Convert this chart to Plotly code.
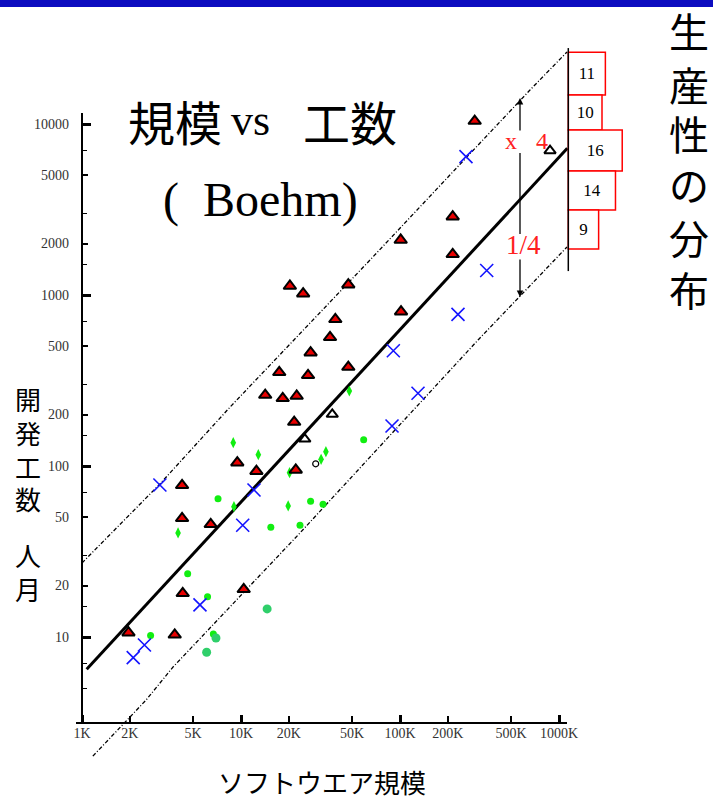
import math
import plotly.graph_objects as go

W, H = 713, 799

# ---------------- data ----------------
size_tick_vals = [1, 2, 5, 10, 20, 50, 100, 200, 500, 1000]
size_tick_text = ["1K", "2K", "5K", "10K", "20K", "50K", "100K", "200K", "500K", "1000K"]
size_decades = [1, 10, 100, 1000]

effort_tick_vals = [10, 20, 50, 100, 200, 500, 1000, 2000, 5000, 10000]
effort_minor_vals = [5, 7, 15, 30, 70, 150, 300, 700, 1500, 3000, 7000]
effort_decades = [10, 100, 1000, 10000]

# project size (K lines) / effort (person-months)
red_x = [1.96, 3.83, 4.30, 10.4, 4.26, 4.26, 6.45, 9.48, 12.5, 22.1, 21.6, 14.2, 18.3, 22.4,
         17.4, 26.4, 27.4, 36.3, 39.2, 47.3, 47.3, 20.3, 24.6, 101.5, 101, 214.5, 214.5, 295]
red_y = [10.6, 10.3, 18.0, 19.0, 77.1, 49.4, 45.6, 104.5, 93.2, 94.8, 180.8, 260, 248.8, 256.7,
         353, 339, 460, 566, 721, 379, 1149, 1129, 1018, 799, 2097, 2870, 1730, 10410]

open_x = [25.2, 37.5, 878]
open_y = [143.8, 200.6, 6982]

blue_x = [3.09, 2.10, 2.47, 5.52, 10.25, 12.07, 89.1, 129.8, 90.8, 231.6, 351, 260]
blue_y = [77.4, 7.57, 8.98, 15.4, 45.0, 72.4, 171.4, 266.2, 472, 771, 1391, 6439]

green_narrow_x = [8.94, 12.85, 20.2, 9.03, 19.8, 4.02, 48.0, 34.2, 31.9]
green_narrow_y = [136.9, 116.4, 91.4, 57.8, 58.4, 40.6, 274.6, 121.2, 109.4]
green_small_x = [7.17, 15.4, 23.5, 4.62, 6.16, 2.70, 6.70, 59.1, 27.4, 32.8]
green_small_y = [64.4, 43.8, 45.0, 23.4, 17.2, 10.2, 10.4, 142.5, 62.2, 59.7]
green_large_x = [6.96, 6.08, 14.6]
green_large_y = [9.87, 8.14, 14.6]

ring_x = [29.5]
ring_y = [103]

fit_x = [1.07, 1128]
fit_y = [6.47, 7210]
upper_x = [1.00, 3.09, 8.53, 64.8, 318.6, 657, 1123]
upper_y = [27.1, 78.5, 221, 1602, 7743, 15800, 26370]
lower_x = [1.17, 2.53, 3.74, 10.3, 23.5, 309.6, 1123]
lower_y = [2.01, 4.28, 6.68, 18.1, 40.6, 545.6, 1909]

hist_counts = [11, 10, 16, 14, 9]
hist_edges = [26300, 14800, 9220, 5310, 3140, 1860]   # effort at 1000K, bin bounds
hist_span = [27800, 1380]

# ---------------- layout geometry ----------------
X_ORIGIN = 82      # pixel column of 1K
X_DECADE = 159     # pixels per decade on the size axis
Y_TEN = 637        # pixel row of 10 person-months
Y_DECADE = 171     # pixels per decade on the effort axis
X_AXIS_ROW = 723
Y_AXIS_TOP = 113
X_AXIS_LEFT = 76
X_AXIS_RIGHT = 567
HIST_BASE = 568.3
HIST_UNIT = 3.37   # pixels per project in the histogram

x_range = [-X_ORIGIN / X_DECADE, (W - X_ORIGIN) / X_DECADE]
y_range = [1 - (H - Y_TEN) / Y_DECADE, 1 + Y_TEN / Y_DECADE]
x2_range = [-HIST_BASE / HIST_UNIT, (W - HIST_BASE) / HIST_UNIT]


def px(p):
    return p / W


def py(p):
    return 1 - p / H


SERIF = "Liberation Serif"
JP = "Noto Sans CJK JP"

fig = go.Figure()

# +/- factor-of-4 band and the fitted trend
for bx, by in ((upper_x, upper_y), (lower_x, lower_y)):
    fig.add_trace(go.Scatter(x=bx, y=by, mode="lines",
                             line=dict(color="black", width=1.3, dash="4px,2px,1px,2px"),
                             hoverinfo="skip", showlegend=False))
fig.add_trace(go.Scatter(x=fit_x, y=fit_y, mode="lines",
                         line=dict(color="black", width=3),
                         hoverinfo="skip", showlegend=False))

# green projects: narrow, small and large blobs
for gx, gy, sym, sz, col in ((green_narrow_x, green_narrow_y, "diamond-tall", 8, "#11ee11"),
                             (green_small_x, green_small_y, "circle", 7, "#11ee11"),
                             (green_large_x, green_large_y, "circle", 9, "#2fcf6a")):
    fig.add_trace(go.Scatter(x=gx, y=gy, mode="markers",
                             marker=dict(symbol=sym, size=sz, color=col, line=dict(width=0)),
                             showlegend=False))
fig.add_trace(go.Scatter(x=ring_x, y=ring_y, mode="markers",
                         marker=dict(symbol="circle-open", size=6, color="black",
                                     line=dict(width=1.2)),
                         showlegend=False))

fig.add_trace(go.Scatter(x=red_x, y=red_y, mode="markers",
                         marker=dict(symbol="triangle-up", size=11, color="#e80000",
                                     line=dict(color="black", width=2)),
                         showlegend=False))
fig.add_trace(go.Scatter(x=open_x, y=open_y, mode="markers",
                         marker=dict(symbol="triangle-up", size=10, color="white",
                                     line=dict(color="black", width=2)),
                         showlegend=False))
fig.add_trace(go.Scatter(x=blue_x, y=blue_y, mode="markers",
                         marker=dict(symbol="x-thin", size=13, color="#1414ff",
                                     line=dict(color="#1414ff", width=1.6)),
                         showlegend=False))

# productivity histogram (log-effort bins at the right edge)
log_edges = [math.log10(v) for v in hist_edges]
hist_centers = [(a + b) / 2 for a, b in zip(log_edges[:-1], log_edges[1:])]
hist_widths = [a - b for a, b in zip(log_edges[:-1], log_edges[1:])]
fig.add_trace(go.Bar(orientation="h", x=hist_counts, y=hist_centers, width=hist_widths,
                     base=0, xaxis="x2", yaxis="y2",
                     marker=dict(color="white", line=dict(color="red", width=1.5)),
                     text=[str(c) for c in hist_counts], textposition="inside",
                     insidetextanchor="middle",
                     textfont=dict(family=SERIF, size=17, color="black"),
                     hoverinfo="skip", showlegend=False))

# carrier for the heavy decade ticks
fig.add_trace(go.Scatter(x=[1, 1000], y=[10, 10000], xaxis="x3", yaxis="y3", mode="markers",
                         marker=dict(opacity=0), hoverinfo="skip", showlegend=False))

shapes = []
# axis lines
shapes.append(dict(type="line", xref="paper", yref="paper",
                   x0=px(X_AXIS_LEFT), x1=px(X_AXIS_RIGHT),
                   y0=py(X_AXIS_ROW), y1=py(X_AXIS_ROW), line=dict(color="black", width=2)))
shapes.append(dict(type="line", xref="paper", yref="paper",
                   x0=px(X_ORIGIN), x1=px(X_ORIGIN),
                   y0=py(Y_AXIS_TOP), y1=py(X_AXIS_ROW), line=dict(color="black", width=2)))
# histogram baseline
shapes.append(dict(type="line", xref="x2", yref="y2", x0=0, x1=0,
                   y0=math.log10(hist_span[0]), y1=math.log10(hist_span[1]),
                   line=dict(color="black", width=1.5)))
# header band
shapes.append(dict(type="rect", xref="paper", yref="paper", x0=0, x1=1,
                   y0=py(7), y1=1, fillcolor="#0c0cc0", line=dict(width=0)))
# middle part of the x4 / 1/4 arrow
shapes.append(dict(type="line", xref="paper", yref="paper", x0=px(520), x1=px(520),
                   y0=py(153), y1=py(234), line=dict(color="black", width=1.3)))

annotations = []


def text(s, x, y, size, family=JP, color="black", **kw):
    annotations.append(dict(text=s, x=px(x), y=py(y), xref="paper", yref="paper",
                            xanchor="center", yanchor="middle", showarrow=False,
                            font=dict(family=family, size=size, color=color), **kw))


text("規模", 175, 121, 47)
text("vs", 250, 120, 44, family=SERIF)
text("工数", 350, 121, 47)
text("(  Boehm)", 260, 200, 48, family=SERIF)

# vertical captions, one glyph per row
for ch, yy in zip("生産性の分布", (30, 84, 133, 184, 237, 289)):
    text(ch, 689, yy, 40, height=44)
for ch, yy in zip("開発工数", (398, 432, 466, 498)):
    text(ch, 28, yy, 26, height=30)
for ch, yy in zip("人月", (554, 588)):
    text(ch, 28, yy, 26, height=30)

text("ソフトウエア規模", 322, 781, 26)
text("x", 511, 141, 24, family=SERIF, color="#ff2020")
text("4", 542, 141, 24, family=SERIF, color="#ff2020")
text("1/4", 523, 245, 27, family=SERIF, color="#ff2020")

for tip, tail in ((98, 132), (297, 258)):
    annotations.append(dict(text="", x=px(520), y=py(tip), xref="paper", yref="paper",
                            ax=0, ay=tail - tip, axref="pixel", ayref="pixel",
                            showarrow=True, arrowhead=2, arrowsize=1, arrowwidth=1.3,
                            arrowcolor="black"))

tickfont = dict(family=SERIF, size=14, color="#333333")
common = dict(showgrid=False, zeroline=False, showline=False, fixedrange=True)

fig.update_layout(
    width=W, height=H, margin=dict(l=0, r=0, t=0, b=0),
    paper_bgcolor="white", plot_bgcolor="white",
    hovermode=False, dragmode=False, showlegend=False,
    xaxis=dict(type="log", range=x_range, domain=[0, 1], anchor="free",
               position=py(X_AXIS_ROW), tickmode="array", tickvals=size_tick_vals,
               ticktext=size_tick_text, ticks="inside", ticklen=7, tickwidth=1.5,
               tickcolor="black", tickfont=tickfont, ticklabelstandoff=0, **common),
    yaxis=dict(type="log", range=y_range, domain=[0, 1], anchor="free",
               position=px(X_ORIGIN), tickmode="array", tickvals=effort_tick_vals,
               ticktext=[str(v) for v in effort_tick_vals], ticks="inside", ticklen=5,
               tickwidth=1.5, tickcolor="black", tickfont=tickfont, ticklabelstandoff=13,
               minor=dict(tickmode="array", tickvals=effort_minor_vals, ticks="inside",
                          ticklen=4, tickwidth=1.3, tickcolor="black"),
               **common),
    xaxis2=dict(type="linear", range=x2_range, overlaying="x", visible=False, **common),
    yaxis2=dict(type="linear", range=y_range, overlaying="y", visible=False, **common),
    xaxis3=dict(type="log", range=x_range, overlaying="x", anchor="free",
                position=py(X_AXIS_ROW), tickmode="array", tickvals=size_decades,
                ticks="inside", ticklen=8, tickwidth=3, tickcolor="black",
                showticklabels=False, **common),
    yaxis3=dict(type="log", range=y_range, overlaying="y", anchor="free",
                position=px(X_ORIGIN), tickmode="array", tickvals=effort_decades,
                ticks="inside", ticklen=8, tickwidth=3, tickcolor="black",
                showticklabels=False, **common),
    shapes=shapes,
    annotations=annotations,
)

fig.write_html("out.html")
